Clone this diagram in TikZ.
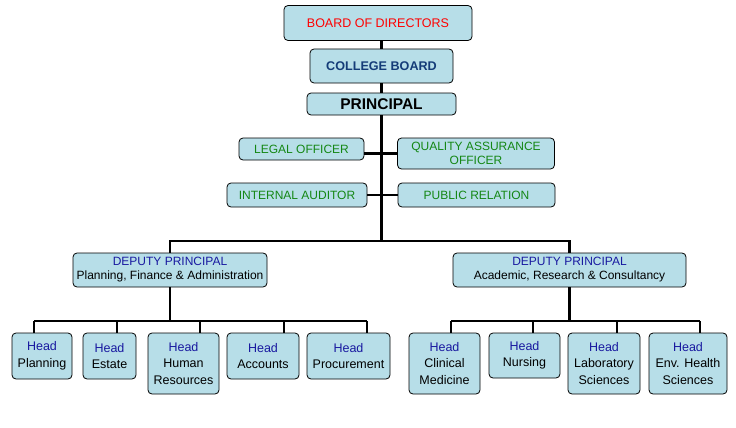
\documentclass[tikz,border=0pt]{standalone}
\usepackage{fontspec}
\setmainfont{Liberation Sans}
\usepackage{tikz}

\definecolor{boxfill}{RGB}{183,222,232}
\definecolor{collegeblue}{RGB}{20,60,120}
\definecolor{headblue}{RGB}{25,25,160}
\definecolor{officegreen}{RGB}{20,135,20}

\begin{document}
\begin{tikzpicture} [x=1pt,y=-1pt,
  unit/.style={draw,fill=boxfill,rounded corners=4pt,line width=0.8pt,align=center,inner sep=1pt,font=\fontsize{12}{14}\selectfont},
  headbox/.style={unit,font=\fontsize{12.5}{16.5}\selectfont},
  link/.style={line width=2.6pt}]
\useasboundingbox (0,0) rectangle (736,428);
% top of the chart
\node [unit,minimum width=188,minimum height=35,font=\fontsize{12.5}{15}\selectfont,text=red] (board) at (378,23) {BOARD OF DIRECTORS};
\node [unit,minimum width=143,minimum height=34,font=\bfseries\fontsize{12.6}{15}\selectfont,text=collegeblue] (college) at (381.5,66) {COLLEGE BOARD};
\node [unit,minimum width=149,minimum height=22,font=\bfseries\fontsize{15.5}{16}\selectfont] (principal) at (381.5,104) {PRINCIPAL};
% staff officers
\node [unit,minimum width=125,minimum height=22,text=officegreen] (legal) at (301.5,149) {LEGAL OFFICER};
\node [unit,minimum width=157,minimum height=31,text=officegreen] (quality) at (476,153.5) {QUALITY ASSURANCE\\OFFICER};
\node [unit,minimum width=140,minimum height=24,text=officegreen] (auditor) at (297,195) {INTERNAL AUDITOR};
\node [unit,minimum width=157,minimum height=24,text=officegreen] (public) at (476.5,195) {PUBLIC RELATION};
% deputies
\node [unit,minimum width=194,minimum height=34] (dpfa) at (170,270) {\textcolor{headblue}{DEPUTY PRINCIPAL}\\Planning, Finance \& Administration};
\node [unit,minimum width=233,minimum height=34] (dpars) at (569.5,270) {\textcolor{headblue}{DEPUTY PRINCIPAL}\\Academic, Research \& Consultancy};
% heads
\node [headbox,minimum width=60,minimum height=46] (hplan) at (42,356) {\textcolor{headblue}{Head}\\Planning};
\node [headbox,minimum width=53,minimum height=46] (hestate) at (109.5,356) {\textcolor{headblue}{Head}\\Estate};
\node [headbox,minimum width=71,minimum height=61] (hhr) at (183.5,363.5) {\textcolor{headblue}{Head}\\Human\\Resources};
\node [headbox,minimum width=72,minimum height=46] (hacc) at (263,356) {\textcolor{headblue}{Head}\\Accounts};
\node [headbox,minimum width=83,minimum height=46] (hproc) at (348.5,356) {\textcolor{headblue}{Head}\\Procurement};
\node [headbox,minimum width=71,minimum height=61] (hclin) at (444.5,363.5) {\textcolor{headblue}{Head}\\Clinical\\Medicine};
\node [headbox,minimum width=71,minimum height=45] (hnurs) at (524.5,355.5) {\textcolor{headblue}{Head}\\Nursing};
\node [headbox,minimum width=72,minimum height=61] (hlab) at (604,363.5) {\textcolor{headblue}{Head}\\Laboratory\\Sciences};
\node [headbox,minimum width=78,minimum height=61] (henv) at (688,363.5) {\textcolor{headblue}{Head}\\Env. Health\\Sciences};
% bars
\coordinate (spine) at (381.5,241);
\coordinate (lbar1) at (34,321);
\coordinate (lbar2) at (117,321);
\coordinate (lbar3) at (200,321);
\coordinate (lbar4) at (284,321);
\coordinate (lbar5) at (367,321);
\coordinate (rbar1) at (451,321);
\coordinate (rbar2) at (533,321);
\coordinate (rbar3) at (617,321);
\coordinate (rbar4) at (700,321);
% connectors
\draw [link](college.north |- board.south) -- (college.north);
\draw [link](college.south) -- (principal.north);
\draw [link](principal.south) -- (spine);
\draw [link](legal.east |- quality.west) -- (quality.west);
\draw [link](auditor.east) -- (public.west);
\draw [link](dpfa.north) -- (dpfa.north |- spine) -- (dpars.north |- spine) -- (dpars.north);
\draw [link](dpfa.south) -- (dpfa.south |- lbar1);
\draw [link](dpars.south) -- (dpars.south |- rbar1);
\draw [link](lbar1) -- (lbar5);
\draw [link](rbar1) -- (rbar4);
\draw [link](lbar1) -- (hplan.north -| lbar1);
\draw [link](lbar2) -- (hestate.north -| lbar2);
\draw [link](lbar3) -- (hhr.north -| lbar3);
\draw [link](lbar4) -- (hacc.north -| lbar4);
\draw [link](lbar5) -- (hproc.north -| lbar5);
\draw [link](rbar1) -- (hclin.north -| rbar1);
\draw [link](rbar2) -- (hnurs.north -| rbar2);
\draw [link](rbar3) -- (hlab.north -| rbar3);
\draw [link](rbar4) -- (henv.north -| rbar4);
\end{tikzpicture}
\end{document}
